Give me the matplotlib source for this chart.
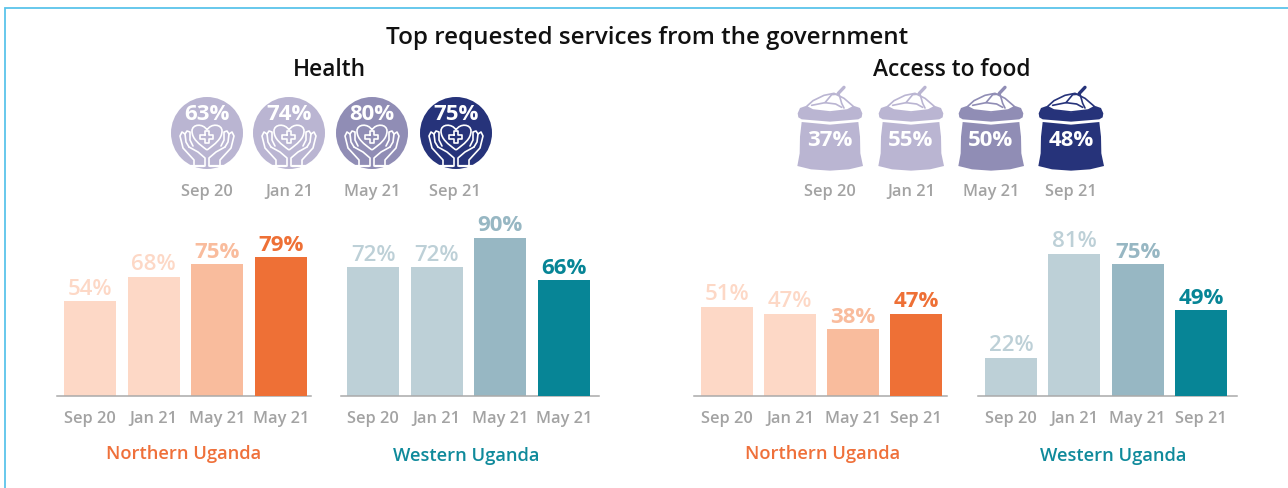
import matplotlib
matplotlib.use("Agg")
import matplotlib.pyplot as plt
from matplotlib.patches import Circle, PathPatch
from matplotlib.path import Path
from matplotlib.transforms import Affine2D

plt.rcParams["font.family"] = ["Open Sans", "DejaVu Sans"]

# Data
title = "Top requested services from the government"
health_dates = ["Sep 20", "Jan 21", "May 21", "Sep 21"]
health_values = [63, 74, 80, 75]
food_dates = ["Sep 20", "Jan 21", "May 21", "Sep 21"]
food_values = [37, 55, 50, 48]

health_labels = ["Sep 20", "Jan 21", "May 21", "May 21"]
food_labels = ["Sep 20", "Jan 21", "May 21", "Sep 21"]
health_north = [54, 68, 75, 79]
# the two 72% bars are drawn a little taller than their label in the original
health_west = [73.3, 73.3, 90, 66]
health_west_text = [72, 72, 90, 66]
food_north = [51, 47, 38, 47]
food_west = [22, 81, 75, 49]

# Colours
orange = ["#FDD8C6", "#FDD8C6", "#F9BC9D", "#EE7036"]
teal = ["#BDD0D7", "#BDD0D7", "#97B7C3", "#078596"]
purple = ["#BAB5D2", "#BAB5D2", "#908DB5", "#26337A"]
GREY = "#A3A3A3"
FRAME = "#5BC4EA"

W, H = 1288, 488
BASE_Y = 396.3
PX_PER_PCT = 1.76

fig = plt.figure(figsize=(W / 100, H / 100), dpi=100, facecolor="white")

# overlay in pixel coordinates for the titles, icons and frame
over = fig.add_axes([0, 0, 1, 1], zorder=5)
over.set_xlim(0, W)
over.set_ylim(H, 0)
over.axis("off")
over.patch.set_alpha(0)


def bar_panel(values, texts, labels, colors, left, right, first, step, name, name_x, name_y, name_color):
    top = BASE_Y - 100 * PX_PER_PCT
    ax = fig.add_axes([left / W, 1 - BASE_Y / H, (right - left) / W, (BASE_Y - top) / H])
    ax.patch.set_alpha(0)
    ax.set_xlim((left - first) / step, (right - first) / step)
    ax.set_ylim(0, 100)
    bars = ax.bar(range(len(values)), values, width=52 / step, color=colors, linewidth=0)
    bars[-1].set_zorder(3)
    for spine in ["top", "left", "right"]:
        ax.spines[spine].set_visible(False)
    ax.spines["bottom"].set_color("#AAAAAA")
    ax.spines["bottom"].set_linewidth(1.1)
    ax.set_yticks([])
    ax.set_xticks(range(len(values)))
    ax.set_xticklabels(labels, fontsize=11.8, fontweight="semibold", color=GREY)
    ax.tick_params(axis="x", length=0, pad=10.8)
    for i, v in enumerate(values):
        ax.text(i, v + 0.8, f"{texts[i]}%", ha="center", va="bottom", fontsize=16,
                color=colors[i], clip_on=False,
                fontweight="bold" if i >= 2 else "semibold")
    over.text(name_x, name_y + 2, name, ha="center", va="center", fontsize=13.2,
              fontweight="semibold", color=name_color)


bar_panel(health_north, health_north, health_labels, orange, 57, 311, 90, 63.67,
          "Northern Uganda", 184, 452, "#EF703A")
bar_panel(health_west, health_west_text, health_labels, teal, 341, 599, 373, 63.67,
          "Western Uganda", 466, 454, "#0F8A9B")
bar_panel(food_north, food_north, food_labels, orange, 694, 947, 727, 63,
          "Northern Uganda", 823, 452, "#EF703A")
bar_panel(food_west, food_west, food_labels, teal, 978, 1237, 1011, 63.33,
          "Western Uganda", 1113, 454, "#0F8A9B")


def stroke(points, cx, cy, color="white", lw=1.2, mirror=False, closed=False):
    # polyline given as offsets from the icon centre
    sign = -1 if mirror else 1
    xs = [cx + sign * p[0] for p in points]
    ys = [cy + p[1] for p in points]
    if closed:
        xs.append(xs[0])
        ys.append(ys[0])
    over.plot(xs, ys, color=color, lw=lw, solid_capstyle="round", solid_joinstyle="round")


def hands_icon(cx, cy, color, value):
    disc = Circle((cx, cy), 36, facecolor=color, edgecolor="none")
    over.add_patch(disc)
    heart = Path(
        [(0, 17), (-8, 11), (-15, 6), (-15, -2), (-15, -9), (-4, -10), (0, -3),
         (4, -10), (15, -9), (15, -2), (15, 6), (8, 11), (0, 17)],
        [Path.MOVETO] + [Path.CURVE4] * 12,
    )
    over.add_patch(PathPatch(heart.transformed(Affine2D().translate(cx, cy)),
                             facecolor="none", edgecolor="white", lw=1.2))
    cross = [(-2, -2.5), (-2, -6.5), (2, -6.5), (2, -2.5), (6.5, -2.5), (6.5, 1.5), (2, 1.5),
             (2, 5.5), (-2, 5.5), (-2, 1.5), (-6.5, 1.5), (-6.5, -2.5)]
    stroke([(x, y + 4) for x, y in cross], cx, cy, closed=True)
    for m in [False, True]:
        stroke([(-13, 33), (-13, 27), (-24, 15), (-27, 3), (-25, -1), (-22, 1), (-21, 9), (-18, 14)],
               cx, cy, mirror=m)
        stroke([(-22, 1), (-20, -2), (-17, -1), (-17, 7), (-14, 13)], cx, cy, mirror=m)
        stroke([(-18, 14), (-9, 19), (-2, 25), (-2, 33)], cx, cy, mirror=m)
        stroke([(-18, 32.5), (-3, 32.5)], cx, cy, mirror=m, lw=1.6)
    over.text(cx, cy - 19, f"{value}%", ha="center", va="center", fontsize=16,
              fontweight="bold", color="white")


def sack_icon(cx, cy, color, value):
    # outline traced on a 3x crop, offsets are (zoom - centre) / 3
    def z(pts):
        return [((x - 123) / 3, (y - 183) / 3) for x, y in pts]

    body = z([(38, 126), (123, 134), (208, 126), (213, 170), (214, 220), (222, 258), (180, 268),
              (123, 272), (66, 268), (25, 258), (32, 220), (33, 170)])
    rim = z([(50, 78), (33, 84), (26, 100), (28, 112), (38, 118), (123, 125), (208, 118), (218, 112),
             (220, 100), (213, 84), (196, 78), (175, 90), (123, 97), (71, 90)])
    mound = z([(52, 80), (72, 62), (105, 46), (135, 40), (165, 55), (194, 80), (175, 90),
               (123, 96), (71, 90)])
    over.fill([cx + p[0] for p in body], [cy + p[1] for p in body], color=color, lw=0)
    over.fill([cx + p[0] for p in rim], [cy + p[1] for p in rim], color=color, lw=0)
    over.fill([cx + p[0] for p in mound], [cy + p[1] for p in mound], facecolor="white",
              edgecolor=color, lw=1.2, closed=True)
    stroke(z([(68, 76), (108, 68), (128, 44), (150, 42), (158, 70), (165, 84)]), cx, cy, color=color)
    stroke(z([(108, 68), (140, 72), (158, 82)]), cx, cy, color=color)
    stroke(z([(148, 40), (165, 22)]), cx, cy, color=color, lw=2.4)
    over.text(cx, cy, f"{value}%", ha="center", va="center", fontsize=16,
              fontweight="bold", color="white")


for x, v, c, d in zip([207, 289, 372, 456], health_values, purple, health_dates):
    hands_icon(x, 133, c, v)
    over.text(x - (1 if x == 456 else 0), 192, d, ha="center", va="center", fontsize=11.8,
              fontweight="semibold", color=GREY)
for x, v, c, d in zip([830, 911, 991, 1071], food_values, purple, food_dates):
    sack_icon(x, 141, c, v)
    over.text(x, 192, d, ha="center", va="center", fontsize=11.8,
              fontweight="semibold", color=GREY)

over.text(647, 38.5, title, ha="center", va="center", fontsize=17.4, fontweight="semibold", color="#111111")
over.text(329, 70.5, "Health", ha="center", va="center", fontsize=16.4, fontweight="semibold", color="#111111")
over.text(952, 70.5, "Access to food", ha="center", va="center", fontsize=16.4, fontweight="semibold", color="#111111")

# frame, open on the right and at the bottom
over.plot([5, 5, W], [H, 7.8, 7.8], color=FRAME, lw=1.3, solid_joinstyle="miter")

fig.savefig("out.png", dpi=100)
